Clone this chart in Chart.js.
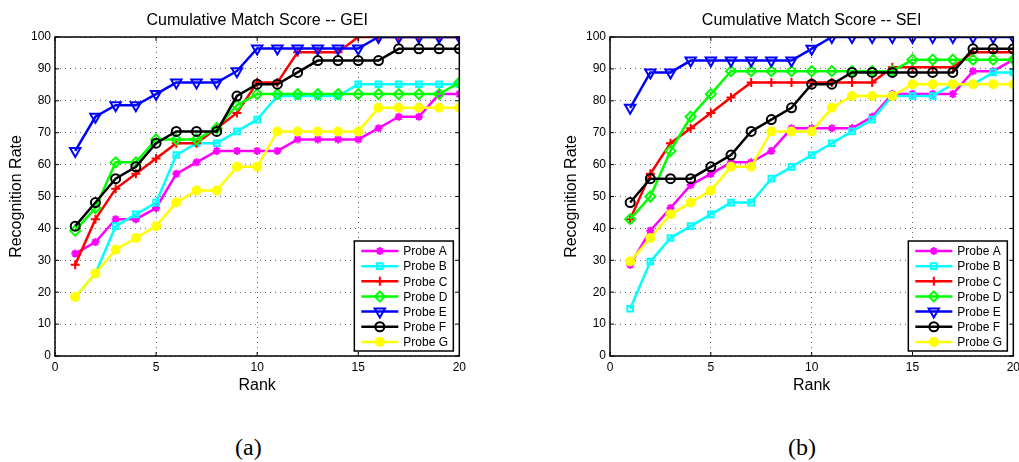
<!DOCTYPE html>
<html>
<head>
<meta charset="utf-8">
<script src="https://cdn.jsdelivr.net/npm/chart.js@4/dist/chart.umd.min.js"></script>
<style>
  html, body { margin: 0; padding: 0; background: #fff; overflow: hidden; width: 1019px; height: 462px; }
  .box { position: absolute; top: 0; }
  .cap { position: absolute; top: 435px; font-family: "Liberation Serif", serif; font-size: 24px; line-height: 24px; color: #000; }
</style>
</head>
<body>
<div class="box" style="left:0px;width:470px;height:400px"><canvas id="gei" width="470" height="400"></canvas></div>
<div class="box" style="left:555px;width:469px;height:400px"><canvas id="sei" width="469" height="400"></canvas></div>
<div class="cap" style="left:235px">(a)</div>
<div class="cap" style="left:788px">(b)</div>
<script>
var ranks = [1,2,3,4,5,6,7,8,9,10,11,12,13,14,15,16,17,18,19,20];
var probes = ["Probe A","Probe B","Probe C","Probe D","Probe E","Probe F","Probe G"];

// GEI
var gei_a = [32.1,35.7,42.9,42.9,46.4,57.1,60.7,64.3,64.3,64.3,64.3,67.9,67.9,67.9,67.9,71.4,75.0,75.0,82.1,82.1];
var gei_b = [18.5,25.9,40.7,44.4,48.1,63.0,66.7,66.7,70.4,74.1,81.5,81.5,81.5,81.5,85.2,85.2,85.2,85.2,85.2,85.2];
var gei_c = [28.6,42.9,52.4,57.1,61.9,66.7,66.7,71.4,76.2,85.7,85.7,95.2,95.2,95.2,100,100,100,100,100,100];
var gei_d = [39.3,46.4,60.7,60.7,67.9,67.9,67.9,71.4,78.6,82.1,82.1,82.1,82.1,82.1,82.1,82.1,82.1,82.1,82.1,85.7];
var gei_e = [64.3,75.0,78.6,78.6,82.1,85.7,85.7,85.7,89.3,96.4,96.4,96.4,96.4,96.4,96.4,100,100,100,100,100];
var gei_f = [40.7,48.1,55.6,59.3,66.7,70.4,70.4,70.4,81.5,85.2,85.2,88.9,92.6,92.6,92.6,92.6,96.3,96.3,96.3,96.3];
var gei_g = [18.5,25.9,33.3,37.0,40.7,48.1,51.9,51.9,59.3,59.3,70.4,70.4,70.4,70.4,70.4,77.8,77.8,77.8,77.8,77.8];

// SEI
var sei_a = [28.6,39.3,46.4,53.6,57.1,60.7,60.7,64.3,71.4,71.4,71.4,71.4,75.0,82.1,82.1,82.1,82.1,89.3,89.3,92.9];
var sei_b = [14.8,29.6,37.0,40.7,44.4,48.1,48.1,55.6,59.3,63.0,66.7,70.4,74.1,81.5,81.5,81.5,85.2,85.2,88.9,88.9];
var sei_c = [42.9,57.1,66.7,71.4,76.2,81.0,85.7,85.7,85.7,85.7,85.7,85.7,85.7,90.5,90.5,90.5,90.5,95.2,95.2,95.2];
var sei_d = [42.9,50.0,64.3,75.0,82.1,89.3,89.3,89.3,89.3,89.3,89.3,89.3,89.3,89.3,92.9,92.9,92.9,92.9,92.9,92.9];
var sei_e = [77.8,88.9,88.9,92.6,92.6,92.6,92.6,92.6,92.6,96.3,100,100,100,100,100,100,100,100,100,100];
var sei_f = [48.1,55.6,55.6,55.6,59.3,63.0,70.4,74.1,77.8,85.2,85.2,88.9,88.9,88.9,88.9,88.9,88.9,96.3,96.3,96.3];
var sei_g = [29.6,37.0,44.4,48.1,51.9,59.3,59.3,70.4,70.4,70.4,77.8,81.5,81.5,81.5,85.2,85.2,85.2,85.2,85.2,85.2];

var colors = ["#ff00ff","#00ffff","#ff0000","#00ff00","#0000ff","#000000","#ffff00"];
var shapes = ["star","rect","cross","rectRot","triangle","circle","circle"];
var radii = [4,4,4.5,5,6,4.5,4];
var rot = [0,0,0,0,180,0,0];
var fills = ["transparent","transparent","transparent","transparent","transparent","transparent","#ffff00"];

Chart.defaults.font.family = "'Liberation Sans', Arial, sans-serif";
Chart.defaults.color = "#000";

function makeSets(series) {
  return series.map(function (vals, i) {
    return {
      label: probes[i],
      data: ranks.map(function (r, j) { return { x: r, y: vals[j] }; }),
      borderColor: colors[i],
      backgroundColor: fills[i],
      borderWidth: 2.5,
      pointStyle: shapes[i],
      pointRadius: radii[i],
      pointRotation: rot[i],
      pointBorderWidth: 2,
      pointBorderColor: colors[i],
      pointBackgroundColor: fills[i],
      fill: false,
      tension: 0,
      order: 6 - i
    };
  });
}

// title, box, inner ticks and legend in the matlab style
var matlabLook = {
  id: "matlabLook",
  afterDraw: function (chart, args, opts) {
    var ctx = chart.ctx, a = chart.chartArea;
    var xs = chart.scales.x, ys = chart.scales.y;
    ctx.save();
    ctx.fillStyle = "#000";
    ctx.font = "16px 'Liberation Sans', Arial, sans-serif";
    ctx.textAlign = "center";
    ctx.textBaseline = "middle";
    ctx.fillText(opts.title, (a.left + a.right) / 2, 21);

    ctx.strokeStyle = "#000";
    ctx.lineWidth = 1.5;
    ctx.strokeRect(a.left, a.top, a.right - a.left, a.bottom - a.top);
    ctx.lineWidth = 1;
    ctx.beginPath();
    xs.ticks.forEach(function (t) {
      var px = xs.getPixelForValue(t.value);
      ctx.moveTo(px, a.bottom); ctx.lineTo(px, a.bottom - 4);
      ctx.moveTo(px, a.top); ctx.lineTo(px, a.top + 4);
    });
    ys.ticks.forEach(function (t) {
      var py = ys.getPixelForValue(t.value);
      ctx.moveTo(a.left, py); ctx.lineTo(a.left + 4, py);
      ctx.moveTo(a.right, py); ctx.lineTo(a.right - 4, py);
    });
    ctx.stroke();

    // legend box
    var w = 99, h = 110;
    var bx = a.right - 6 - w, by = a.bottom - 5 - h;
    ctx.fillStyle = "#fff";
    ctx.fillRect(bx, by, w, h);
    ctx.lineWidth = 1.5;
    ctx.strokeStyle = "#000";
    ctx.strokeRect(bx, by, w, h);
    ctx.font = "12px 'Liberation Sans', Arial, sans-serif";
    ctx.textAlign = "left";
    chart.data.datasets.forEach(function (ds, i) {
      var y = by + 10 + i * 15.15;
      ctx.strokeStyle = ds.borderColor;
      ctx.lineWidth = 2.5;
      ctx.beginPath();
      ctx.moveTo(bx + 7, y); ctx.lineTo(bx + 44, y);
      ctx.stroke();
      ctx.lineWidth = 2;
      ctx.fillStyle = ds.pointBackgroundColor;
      Chart.helpers.drawPoint(ctx, { pointStyle: ds.pointStyle, radius: ds.pointRadius, rotation: ds.pointRotation, borderWidth: 2 }, bx + 25.5, y);
      ctx.fillStyle = "#000";
      ctx.fillText(ds.label, bx + 49, y + 1);
    });
    ctx.restore();
  }
};

function makeChart(id, title, series) {
  return new Chart(document.getElementById(id), {
    type: "line",
    data: { datasets: makeSets(series) },
    plugins: [matlabLook],
    options: {
      responsive: false,
      animation: false,
      layout: { padding: { top: 37, right: 9, left: 0, bottom: 0 } },
      plugins: {
        legend: { display: false },
        tooltip: { enabled: false },
        matlabLook: { title: title }
      },
      scales: {
        x: {
          type: "linear", min: 0, max: 20,
          ticks: { stepSize: 5, padding: 4, font: { size: 12 } },
          grid: { color: "rgba(0,0,0,0.6)", lineWidth: 1, drawTicks: false },
          border: { display: false, dash: [1, 4] },
          title: { display: true, text: "Rank", font: { size: 16 }, padding: { top: 2, bottom: 5 } },
          afterFit: function (s) { s.height = 44; }
        },
        y: {
          min: 0, max: 100,
          ticks: { stepSize: 10, padding: 4, font: { size: 12 } },
          grid: { color: "rgba(0,0,0,0.6)", lineWidth: 1, drawTicks: false },
          border: { display: false, dash: [1, 4] },
          title: { display: true, text: "Recognition Rate", font: { size: 16 }, padding: { top: 7, bottom: 2 } },
          afterFit: function (s) { s.width = 55; }
        }
      }
    }
  });
}

makeChart("gei", "Cumulative Match Score -- GEI", [gei_a, gei_b, gei_c, gei_d, gei_e, gei_f, gei_g]);
makeChart("sei", "Cumulative Match Score -- SEI", [sei_a, sei_b, sei_c, sei_d, sei_e, sei_f, sei_g]);
</script>
</body>
</html>
